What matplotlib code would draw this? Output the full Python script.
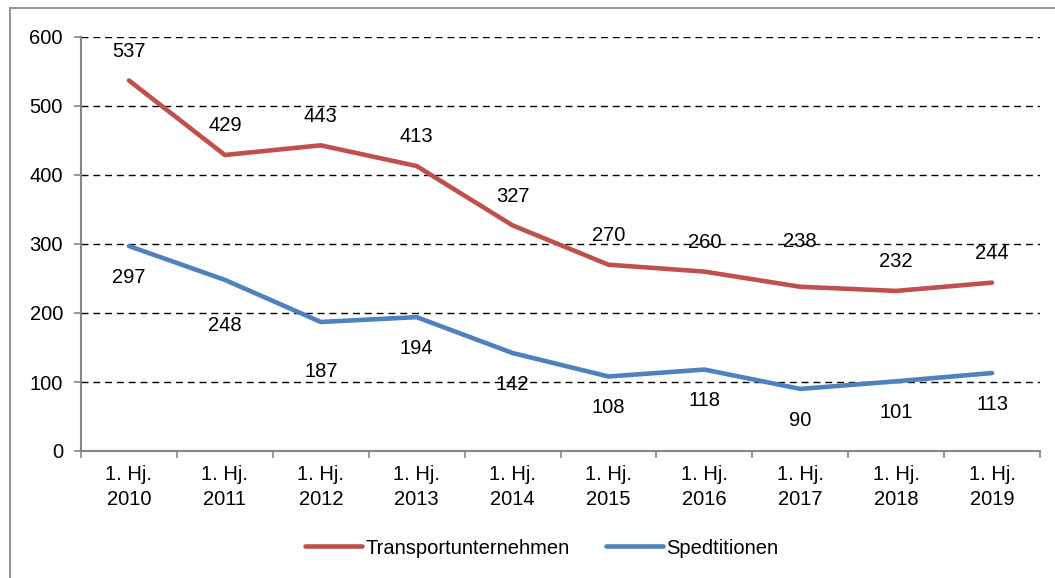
import matplotlib
matplotlib.use("Agg")
import matplotlib.pyplot as plt
from matplotlib.lines import Line2D

categories = ["1. Hj.\n2010", "1. Hj.\n2011", "1. Hj.\n2012", "1. Hj.\n2013", "1. Hj.\n2014",
              "1. Hj.\n2015", "1. Hj.\n2016", "1. Hj.\n2017", "1. Hj.\n2018", "1. Hj.\n2019"]
transport = [537, 429, 443, 413, 327, 270, 260, 238, 232, 244]
spedition = [297, 248, 187, 194, 142, 108, 118, 90, 101, 113]
yticks = [0, 100, 200, 300, 400, 500, 600]

# label offsets in points (layout only)
transport_off = [21, 21, 21, 21, 21, 21, 21, 32.5, 21, 21]
spedition_off = [-22.5, -32.5, -36, -22.5, -22.5, -22.5, -22.5, -22.5, -22.5, -22.5]

plt.rcParams['font.family'] = ['Liberation Sans', 'DejaVu Sans']
FS = 14.5
red = "#C0504D"
blue = "#4F81BD"
axis_grey = "#868686"

fig = plt.figure(figsize=(10.55, 5.78), dpi=100)
ax = fig.add_axes([81/1055, 1-451/578, (1040-81)/1055, (451-37)/578])

x = list(range(len(categories)))
ax.plot(x, transport, color=red, lw=3.3, solid_capstyle='round', solid_joinstyle='round',
        label="Transportunternehmen", zorder=3)
ax.plot(x, spedition, color=blue, lw=3.3, solid_capstyle='round', solid_joinstyle='round',
        label="Spedtitionen", zorder=3)

for xi, v, o in zip(x, transport, transport_off):
    ax.annotate(str(v), (xi, v), xytext=(0, o), textcoords='offset points',
                ha='center', va='center', fontsize=FS, color='black', zorder=4)
for xi, v, o in zip(x, spedition, spedition_off):
    ax.annotate(str(v), (xi, v), xytext=(0, o), textcoords='offset points',
                ha='center', va='center', fontsize=FS, color='black', zorder=4)

ax.set_xlim(-0.5, len(categories) - 0.5)
ax.set_ylim(0, 600)
ax.set_yticks(yticks)
ax.set_yticklabels([str(t) for t in yticks], fontsize=FS)
ax.set_xticks(x)
ax.set_xticklabels(categories, fontsize=FS, linespacing=1.4)
ax.tick_params(axis='x', which='major', length=0, pad=10)
ax.set_xticks([i - 0.5 for i in range(len(categories) + 1)], minor=True)
ax.tick_params(axis='x', which='minor', length=5, color=axis_grey, width=1.2)
ax.tick_params(axis='y', length=5, color=axis_grey, width=1.2, pad=8)

for s in ['top', 'right']:
    ax.spines[s].set_visible(False)
for s in ['left', 'bottom']:
    ax.spines[s].set_color(axis_grey)
    ax.spines[s].set_linewidth(1.5)

for t in yticks[1:]:
    ax.axhline(t, color='black', lw=1.0, ls=(0, (5, 3.5)), zorder=1)

leg = fig.legend(loc='center', bbox_to_anchor=(542/1055, 1-548/578), ncol=2, frameon=False,
                 fontsize=FS, handlelength=2.8, handletextpad=0.2, columnspacing=1.8)

# outer frame (partially visible)
fig.add_artist(Line2D([10/1055, 10/1055], [0, 1-8/578], transform=fig.transFigure,
                      color="#8c8c8c", lw=1.3))
fig.add_artist(Line2D([10/1055, 1], [1-8/578, 1-8/578], transform=fig.transFigure,
                      color="#8c8c8c", lw=1.3))

fig.savefig("out.png", dpi=100)
